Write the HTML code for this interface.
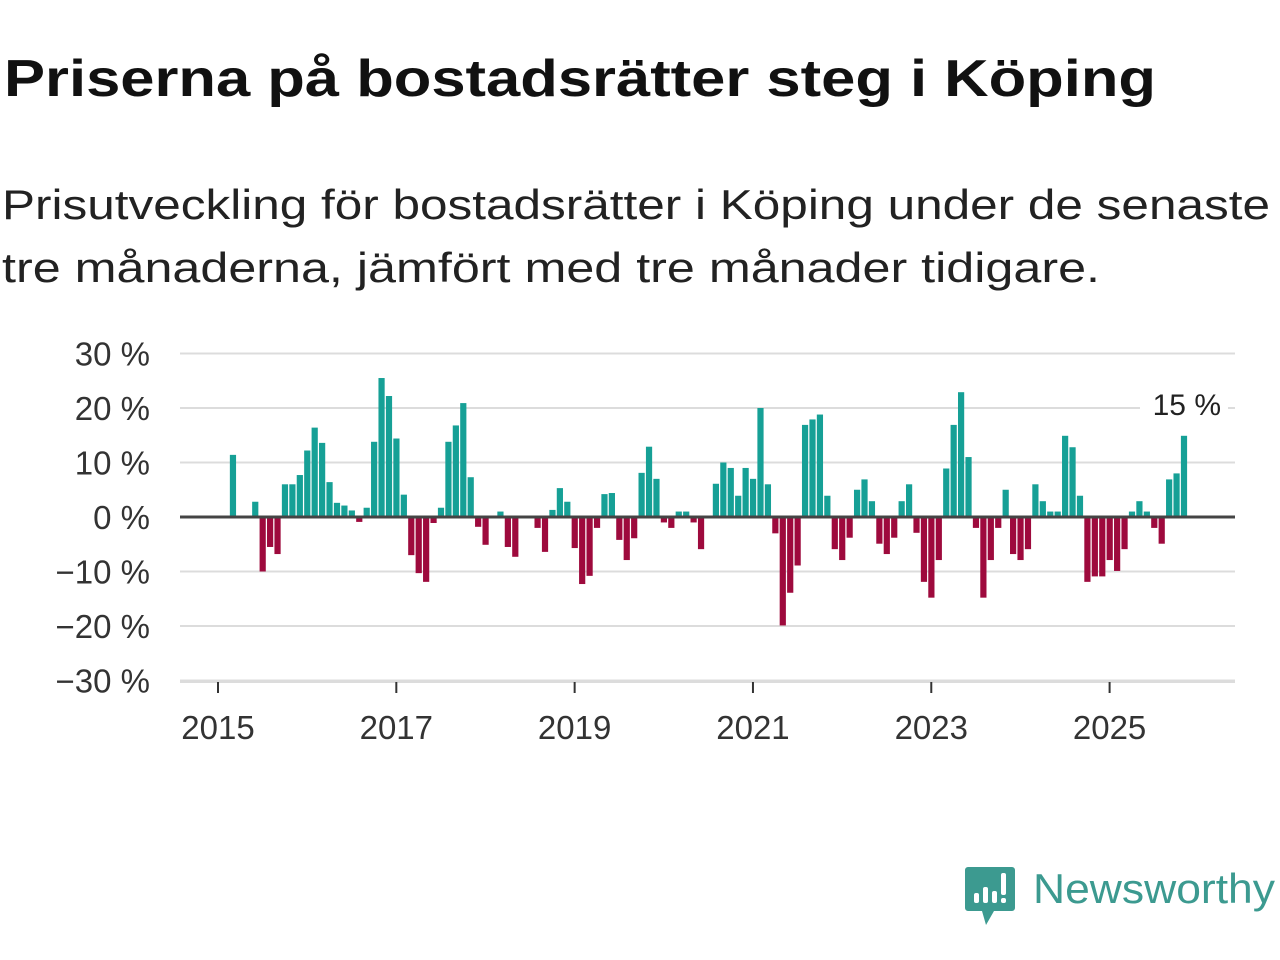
<!DOCTYPE html>
<html><head><meta charset="utf-8"><style>
html,body{margin:0;padding:0;background:#fff;width:1280px;height:960px;overflow:hidden}
svg{display:block;font-family:"Liberation Sans","DejaVu Sans",sans-serif}
</style></head><body>
<svg id="chart" width="1280" height="960" viewBox="0 0 1280 960">
<text x="4" y="96" font-size="52" font-weight="bold" fill="#111" textLength="1152" lengthAdjust="spacingAndGlyphs">Priserna på bostadsrätter steg i Köping</text>
<text x="2" y="219" font-size="42" fill="#222" textLength="1268" lengthAdjust="spacingAndGlyphs">Prisutveckling för bostadsrätter i Köping under de senaste</text>
<text x="2" y="282" font-size="42" fill="#222" textLength="1098" lengthAdjust="spacingAndGlyphs">tre månaderna, jämfört med tre månader tidigare.</text>
<g id="grid"></g>
<g id="bars"></g>
<g id="axes"></g>
<g>
<path d="M968 867 h44 a3 3 0 0 1 3 3 v38 a3 3 0 0 1 -3 3 h-18 l-8 14 l-4 -14 h-14 a3 3 0 0 1 -3 -3 v-38 a3 3 0 0 1 3 -3z" fill="#3c9a90"/>
<rect x="974" y="893" width="5" height="10" rx="2" fill="#fff"/>
<rect x="983" y="887" width="5" height="16" rx="2" fill="#fff"/>
<rect x="992" y="891" width="5" height="12" rx="2" fill="#fff"/>
<rect x="1001" y="873" width="5" height="22" rx="2" fill="#fff"/>
<rect x="1001" y="898" width="5" height="5" rx="2" fill="#fff"/>
<text x="1033" y="903" font-size="42" fill="#3c9a90" textLength="242" lengthAdjust="spacingAndGlyphs">Newsworthy</text>
</g>
</svg>
<script>
const yTicks = [30, 20, 10, 0, -10, -20, -30];
const yTickLabels = ["30 %", "20 %", "10 %", "0 %", "\u221210 %", "\u221220 %", "\u221230 %"];
const xTickYears = [2015, 2017, 2019, 2021, 2023, 2025];
const startYear = 2015;
const values = [
 0,0,11.4,0,0,2.8,-10,-5.5,-6.8,6,6,7.7,12.2,16.4,13.6,6.4,2.6,2.1,1.2,-0.9,1.7,13.8,25.5,22.2,
 14.4,4.1,-7,-10.3,-11.9,-1.1,1.7,13.8,16.8,20.9,7.3,-1.8,-5.1,0,1,-5.5,-7.3,0,0,-2,-6.4,1.3,5.3,2.8,
 -5.7,-12.3,-10.8,-2,4.2,4.4,-4.2,-7.9,-3.9,8.1,12.9,7,-1,-2,1,1,-1,-5.9,0,6.1,10,9,3.9,9,
 7,20,6,-3,-19.9,-13.9,-8.9,16.9,17.9,18.8,3.9,-5.9,-7.9,-3.8,5,6.9,2.9,-4.9,-6.8,-3.8,2.9,6,
 -2.9,-11.9,-14.8,-7.9,8.9,16.9,22.9,11,-2,-14.8,-7.9,-2,5,-6.8,-7.9,-5.9,6,2.9,1,1,14.9,12.8,3.9,-11.9,
 -10.9,-10.9,-7.9,-9.9,-5.9,1,2.9,1,-2,-4.9,6.9,8,14.9
];
const lastLabel = ["15 %"];

const NS = "http://www.w3.org/2000/svg";
const x0 = 218, monthW = 7.43, plotL = 180, plotR = 1235;
const yZero = 517, yPer = 5.45;
function xScale(i){ return x0 + i*monthW; }
function yScale(v){ return yZero - v*yPer; }
function mk(tag, attrs, parent){ const e = document.createElementNS(NS, tag); for (const k in attrs) e.setAttribute(k, attrs[k]); parent.appendChild(e); return e; }
const grid = document.getElementById('grid'), bars = document.getElementById('bars'), axes = document.getElementById('axes');

yTicks.forEach((t, i) => {
  if (t !== 0) {
    const l = mk('line', {x1: plotL, x2: plotR, y1: yScale(t), y2: yScale(t), stroke: '#dcdcdc', 'stroke-width': 2}, grid);
    
    
  }
  const tx = mk('text', {x: 150, y: yScale(t) + 12, 'font-size': 33, fill: '#333', 'text-anchor': 'end'}, axes);
  tx.textContent = yTickLabels[i];
  
  
});

values.forEach((v, i) => {
  if (v === 0) return;
  const y = Math.min(yScale(v), yZero), h = Math.abs(v*yPer);
  const r = mk('rect', {x: xScale(i) - 3, y: y, width: 6.2, height: h, fill: v > 0 ? '#16a096' : '#9e0a3d'}, bars);
  
  
});

const zl = mk('line', {x1: plotL, x2: plotR, y1: yZero, y2: yZero, stroke: '#444', 'stroke-width': 3}, axes);


const xl = mk('line', {x1: plotL, x2: plotR, y1: 682, y2: 682, stroke: '#dcdcdc', 'stroke-width': 2}, axes);



xTickYears.forEach(yr => {
  const x = xScale((yr - startYear)*12);
  const tk = mk('line', {x1: x, x2: x, y1: 682, y2: 693, stroke: '#333', 'stroke-width': 2}, axes);
  
  
  const t = mk('text', {x: x, y: 739, 'font-size': 33, fill: '#333', 'text-anchor': 'middle'}, axes);
  t.textContent = yr;
  
  
});

const bg = mk('rect', {x: 1140, y: 392, width: 88, height: 32, fill: '#fff'}, axes);


const an = mk('text', {x: 1221, y: 415, 'font-size': 30, fill: '#222', 'text-anchor': 'end'}, axes);
an.textContent = lastLabel[0];


</script>
</body></html>
